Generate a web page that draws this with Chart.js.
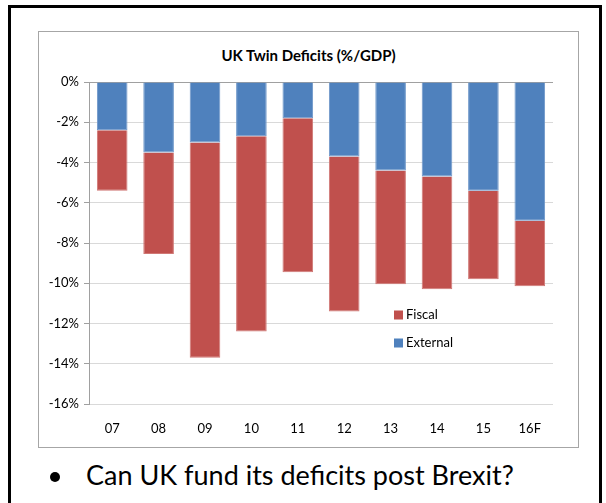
<!DOCTYPE html>
<html>
<head>
<meta charset="utf-8">
<script src="https://cdn.jsdelivr.net/npm/chart.js@4"></script>
<style>
  html, body { margin: 0; padding: 0; background: #fff; }
  body { width: 606px; height: 503px; position: relative; overflow: hidden; font-family: Lato, "Noto Sans", sans-serif; }
  #frame { position: absolute; left: 8px; top: 5px; width: 594px; height: 520px; border: 3px solid #000; box-sizing: border-box; }
  #box { position: absolute; left: 38px; top: 31px; width: 541px; height: 417px; border: 1px solid #a6a6a6; box-sizing: border-box; }
  #box canvas { position: absolute; left: 0; top: 0; }
  #title { position: absolute; left: 0; width: 100%; top: 14px; text-align: center; font-weight: bold; font-size: 15px; color: #000; }
  #note { position: absolute; left: 86px; top: 458px; font-size: 27px; color: #000; white-space: nowrap; }
  #bullet { position: absolute; left: 50px; top: 472px; width: 10px; height: 10px; border-radius: 50%; background: #000; }
</style>
</head>
<body>
<div id="frame"></div>
<div id="box">
  <div id="title">UK Twin Deficits (%/GDP)</div>
  <canvas id="chart" width="539" height="415"></canvas>
</div>
<div id="bullet"></div>
<div id="note">Can UK fund its deficits post Brexit?</div>
<script>
// 年份
const years = ['07', '08', '09', '10', '11', '12', '13', '14', '15', '16F'];
// 经常账户赤字 (%/GDP)
const external = [-2.4, -3.5, -3.0, -2.7, -1.8, -3.7, -4.4, -4.7, -5.4, -6.9];
// 财政赤字 (%/GDP)
const fiscal = [-3.0, -5.05, -10.7, -9.7, -7.65, -7.7, -5.65, -5.6, -4.4, -3.25];
// 坐标刻度
const yTicks = [0, -2, -4, -6, -8, -10, -12, -14, -16];

const blue = '#4f81bd';
const red = '#c0504d';

// 图例画在绘图区内部
const innerLegend = {
    id: 'innerLegend',
    afterDraw(chart) {
        const ctx = chart.ctx;
        const a = chart.chartArea;
        const items = [['Fiscal', red], ['External', blue]];
        ctx.save();
        ctx.font = '13px Lato, "Noto Sans", sans-serif';
        ctx.textBaseline = 'middle';
        items.forEach((it, i) => {
            const x = a.left + 305;
            const y = a.top + 233 + i * 28;
            ctx.fillStyle = it[1];
            ctx.fillRect(x, y - 4.5, 9, 9);
            ctx.fillStyle = '#000';
            ctx.fillText(it[0], x + 12, y);
        });
        ctx.restore();
    }
};

const ctx = document.getElementById('chart').getContext('2d');
new Chart(ctx, {
    type: 'bar',
    data: {
        labels: years,
        datasets: [
            {
                label: 'External',
                data: external,
                backgroundColor: blue,
                borderColor: '#6f97c9',
                borderWidth: 1,
                barPercentage: 0.66,
                categoryPercentage: 1
            },
            {
                label: 'Fiscal',
                data: fiscal,
                backgroundColor: red,
                borderColor: '#d07875',
                borderWidth: 1,
                barPercentage: 0.66,
                categoryPercentage: 1
            }
        ]
    },
    options: {
        responsive: false,
        animation: false,
        layout: { padding: { left: 0, top: 50, right: 25, bottom: 0 } },
        plugins: {
            legend: { display: false },
            title: { display: false },
            tooltip: { enabled: false }
        },
        scales: {
            x: {
                stacked: true,
                grid: { display: false },
                border: { display: false },
                ticks: { color: '#000', font: { size: 13, family: 'Lato' }, padding: 9, maxRotation: 0 },
                afterFit: s => { s.height = 43; }
            },
            y: {
                stacked: true,
                min: -16,
                max: 0,
                afterBuildTicks: s => { s.ticks = yTicks.map(v => ({ value: v })); },
                grid: {
                    color: c => c.tick && c.tick.value === 0 ? '#a0a0a0' : '#d9d9d9',
                    tickLength: 5,
                    tickColor: '#a0a0a0',
                    drawTicks: true
                },
                border: { display: true, color: '#a0a0a0' },
                ticks: {
                    color: '#000',
                    font: { size: 13, family: 'Lato' },
                    padding: 5,
                    callback: v => v + '%'
                },
                afterFit: s => { s.width = 50; }
            }
        }
    },
    plugins: [innerLegend]
});
</script>
</body>
</html>
